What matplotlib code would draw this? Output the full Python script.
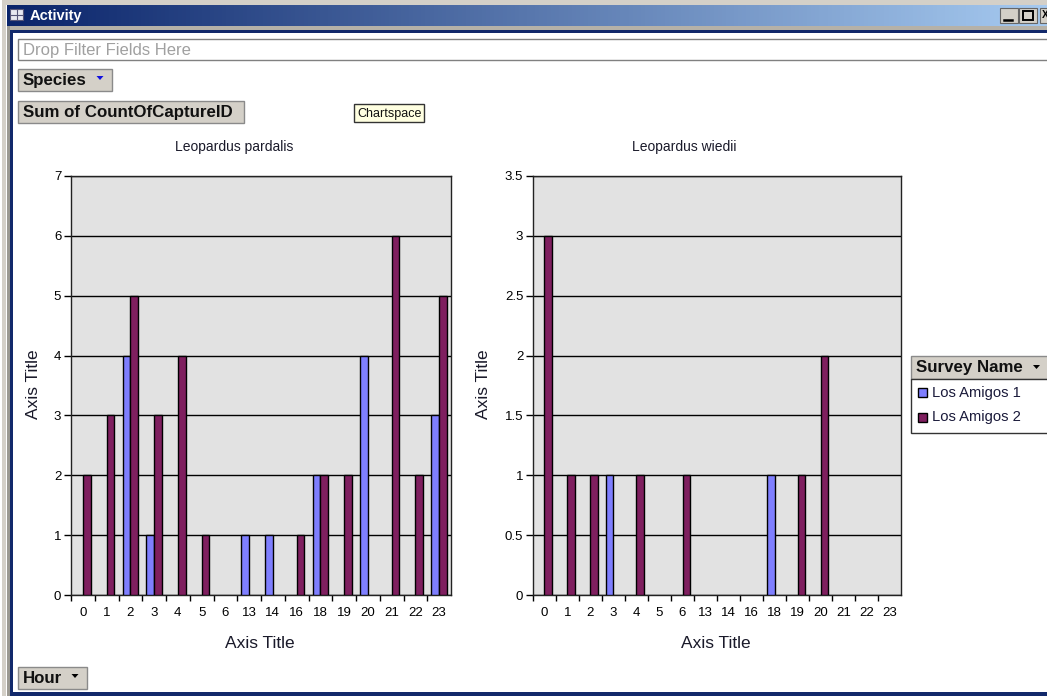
import matplotlib
matplotlib.use('Agg')
import matplotlib.pyplot as plt
import numpy as np
from matplotlib.colors import LinearSegmentedColormap
from matplotlib.patches import Rectangle

plt.rcParams['font.family'] = ['Liberation Sans', 'DejaVu Sans']

hours = ['0', '1', '2', '3', '4', '5', '6', '13', '14', '16', '18', '19', '20', '21', '22', '23']

# counts per hour, same order as hours
pardalis_la1 = [0, 0, 4, 1, 0, 0, 0, 1, 1, 0, 2, 0, 4, 0, 0, 3]
pardalis_la2 = [2, 3, 5, 3, 4, 1, 0, 0, 0, 1, 2, 2, 0, 6, 2, 5]
wiedii_la1 = [0, 0, 0, 1, 0, 0, 0, 0, 0, 0, 1, 0, 0, 0, 0, 0]
wiedii_la2 = [3, 1, 1, 0, 1, 0, 1, 0, 0, 0, 0, 1, 2, 0, 0, 0]

pardalis_yticks = [0, 1, 2, 3, 4, 5, 6, 7]
wiedii_yticks = [0, 0.5, 1, 1.5, 2, 2.5, 3, 3.5]
wiedii_ylabels = ['0', '0.5', '1', '1.5', '2', '2.5', '3', '3.5']

series_names = ['Los Amigos 1', 'Los Amigos 2']

W, H = 1047, 696
BLUE = '#7f7fff'
PURPLE = '#7f1f5f'
PLOT_BG = '#e2e2e2'
BUTTON = '#d4d0c8'
NAVY = '#12296b'


def px_axes(fig, left, top, right, bottom):
    return fig.add_axes([left / W, 1 - bottom / H, (right - left) / W, (bottom - top) / H])


def draw_chart(fig, box, title, title_x, ylabel_x, xlabel_x, la1, la2, yticks, ylabels):
    ax = px_axes(fig, *box)
    x = np.arange(len(hours))
    width = 0.33
    for xi, v in zip(x, la1):
        if v:
            ax.bar(xi - width / 2, v, width, color=BLUE, edgecolor='black', linewidth=1.0, zorder=3)
    for xi, v in zip(x, la2):
        if v:
            ax.bar(xi + width / 2, v, width, color=PURPLE, edgecolor='black', linewidth=1.0, zorder=3)
    ax.set_facecolor(PLOT_BG)
    ax.set_xlim(-0.5, len(hours) - 0.5)
    ax.set_ylim(yticks[0], yticks[-1])
    ax.set_yticks(yticks)
    ax.set_yticklabels(ylabels, fontsize=9.5)
    ax.set_xticks(x - 0.5, minor=False)
    ax.set_xticklabels([])
    ax.set_xticks(x, minor=True)
    ax.set_xticklabels(hours, minor=True, fontsize=9.5)
    ax.tick_params(axis='x', which='major', length=4, width=1, direction='out')
    ax.tick_params(axis='x', which='minor', length=0, pad=9)
    ax.tick_params(axis='y', length=5, width=1, pad=2)
    ax.grid(True, axis='y', color='black', linewidth=1, zorder=1)
    ax.set_axisbelow(True)
    for s in ax.spines.values():
        s.set_linewidth(1)
        s.set_color('#222222')
    fig.text(title_x / W, 1 - 147 / H, title, fontsize=10, ha='center', va='center', color='#1a1a2a')
    fig.text(ylabel_x / W, 1 - 384.5 / H, 'Axis Title', fontsize=12.5, rotation=90,
             ha='center', va='center', color='#1a1a2a')
    fig.text(xlabel_x / W, 1 - 643 / H, 'Axis Title', fontsize=12.5, ha='center', va='center',
             color='#1a1a2a')
    return ax


def button(ov, x0, y0, x1, y1, label, size=12.2, arrow=None, arrow_color='black'):
    ov.add_patch(Rectangle((x0, y0), x1 - x0, y1 - y0, facecolor=BUTTON, edgecolor='#8a8a8a', linewidth=1))
    ov.text(x0 + 5, (y0 + y1) / 2 + 0.5, label, fontsize=size, fontweight='bold', va='center', ha='left',
            color='#111111')
    if arrow is not None:
        ov.fill([arrow - 3.5, arrow + 3.5, arrow], [y0 + 7, y0 + 7, y0 + 11], color=arrow_color, lw=0)


fig = plt.figure(figsize=(W / 100, H / 100), dpi=100, facecolor='white')

# window chrome and pivot table buttons, in pixel coordinates
ov = fig.add_axes([0, 0, 1, 1])
ov.set_xlim(0, W)
ov.set_ylim(H, 0)
ov.axis('off')

ov.add_patch(Rectangle((0, 0), W, 5, facecolor='#d4d0c8', lw=0))
ov.add_patch(Rectangle((0, 0), 6, H, facecolor='#d4d0c8', lw=0))
ov.add_patch(Rectangle((0, 0), 2, H, facecolor='white', lw=0))
grad = LinearSegmentedColormap.from_list('title', ['#0a246a', '#a6caf0'])
ov.imshow(np.linspace(0, 1, 256).reshape(1, -1), cmap=grad, aspect='auto',
          extent=(7, W, 26, 5), zorder=1)
ov.set_xlim(0, W)
ov.set_ylim(H, 0)
ov.add_patch(Rectangle((7, 26), W, 4, facecolor='#b5b1a8', lw=0, zorder=1))
ov.add_patch(Rectangle((7, 26), 3, H, facecolor='#9c9a92', lw=0, zorder=1))
ov.add_patch(Rectangle((10, 30), W, 2.5, facecolor=NAVY, lw=0, zorder=1))
ov.add_patch(Rectangle((10, 30), 2.5, H, facecolor=NAVY, lw=0, zorder=1))
ov.add_patch(Rectangle((10, 692), W, 4, facecolor=NAVY, lw=0, zorder=1))

ov.add_patch(Rectangle((10, 9), 13, 11, facecolor='#e8e8f0', edgecolor='#555577', lw=0.8, zorder=2))
ov.plot([17, 17], [10, 19], color='#555577', lw=0.8, zorder=3)
ov.plot([11, 22], [14.5, 14.5], color='#555577', lw=0.8, zorder=3)
ov.text(30, 16, 'Activity', fontsize=10.5, fontweight='bold', color='white', va='center', zorder=3)

for bx in [1000, 1019, 1040]:
    ov.add_patch(Rectangle((bx, 8), 18, 15, facecolor=BUTTON, edgecolor='#666666', lw=0.8, zorder=2))
ov.plot([1004, 1012], [20, 20], color='black', lw=1.8, zorder=3)
ov.add_patch(Rectangle((1023, 11), 10, 9, facecolor='none', edgecolor='black', lw=1.4, zorder=3))
ov.text(1041.5, 15.5, 'X', fontsize=7.5, fontweight='bold', ha='left', va='center', color='black', zorder=3)

ov.add_patch(Rectangle((18, 39), W, 21, facecolor='white', edgecolor='#808080', lw=1, zorder=2))
ov.text(23, 50, 'Drop Filter Fields Here', fontsize=12, color='#a0a0a0', va='center', zorder=3)

button(ov, 18, 69, 112, 91, 'Species', arrow=100, arrow_color='#1010e0')
button(ov, 18, 101, 244, 123, 'Sum of CountOfCaptureID')
button(ov, 18, 667, 87, 689, 'Hour', arrow=75)

ov.add_patch(Rectangle((354, 104), 70, 18, facecolor='#ffffe1', edgecolor='#333333', lw=1, zorder=2))
ov.text(389.5, 113.5, 'Chartspace', fontsize=9, ha='center', va='center', color='#111111', zorder=3)

# legend
ov.add_patch(Rectangle((911, 356), 140, 23, facecolor=BUTTON, edgecolor='#8a8a8a', lw=1, zorder=2))
ov.text(916, 367.5, 'Survey Name', fontsize=12.2, fontweight='bold', va='center', color='#111111', zorder=3)
ov.fill([1033, 1040, 1036.5], [365, 365, 369], color='black', lw=0, zorder=3)
ov.add_patch(Rectangle((911, 379), 140, 54, facecolor='white', edgecolor='#333333', lw=1, zorder=2))
for y, name, col in zip([392, 417], series_names, [BLUE, PURPLE]):
    ov.add_patch(Rectangle((918, y - 4.5), 9, 9, facecolor=col, edgecolor='black', lw=1, zorder=3))
    ov.text(932, y + 0.5, name, fontsize=10.6, va='center', color='#1a1a3a', zorder=3)

draw_chart(fig, (71, 176, 451, 595), 'Leopardus pardalis', 234, 34, 260,
           pardalis_la1, pardalis_la2, pardalis_yticks, [str(t) for t in pardalis_yticks])
draw_chart(fig, (533, 176, 901, 595), 'Leopardus wiedii', 684.5, 483, 716,
           wiedii_la1, wiedii_la2, wiedii_yticks, wiedii_ylabels)

fig.savefig('out.png', dpi=100)
